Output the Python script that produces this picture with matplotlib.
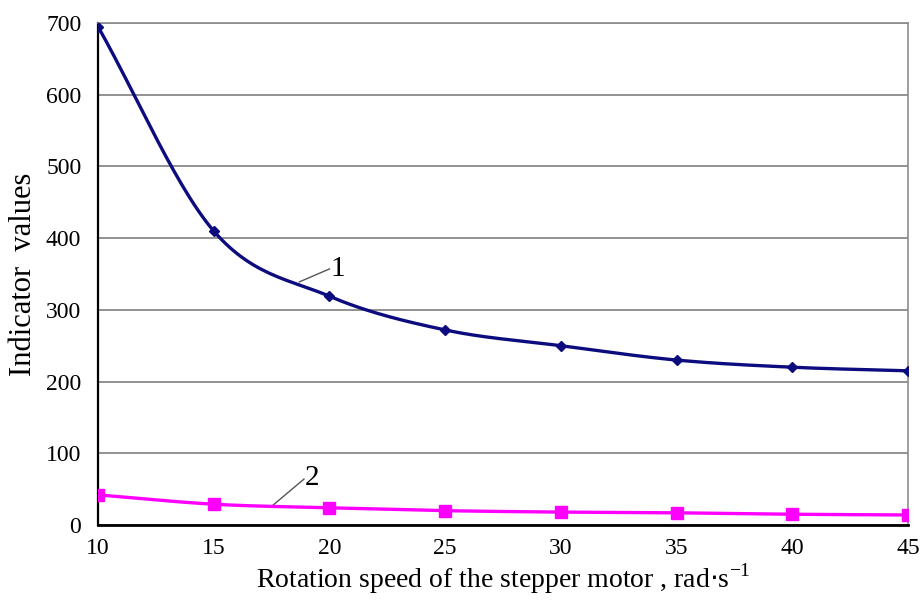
import numpy as np
import matplotlib.pyplot as plt

speed = [10, 15, 20, 25, 30, 35, 40, 45]
series1 = [695, 410, 319, 272, 250, 230, 220, 215]
series2 = [42, 29, 24, 20, 18, 17, 15, 14]


def smooth(x, y, n=30):
    # Catmull-Rom curve through the points, like a spreadsheet "smoothed line"
    x = np.asarray(x, float)
    y = np.asarray(y, float)
    px = np.r_[2 * x[0] - x[1], x, 2 * x[-1] - x[-2]]
    py = np.r_[2 * y[0] - y[1], y, 2 * y[-1] - y[-2]]
    t = np.linspace(0, 1, n)[:, None]
    xs, ys = [], []
    for i in range(1, len(px) - 2):
        for p, out in ((px, xs), (py, ys)):
            p0, p1, p2, p3 = p[i - 1], p[i], p[i + 1], p[i + 2]
            seg = 0.5 * ((2 * p1) + (-p0 + p2) * t
                         + (2 * p0 - 5 * p1 + 4 * p2 - p3) * t ** 2
                         + (-p0 + 3 * p1 - 3 * p2 + p3) * t ** 3)
            out.append(seg.ravel())
    return np.concatenate(xs), np.concatenate(ys)


plt.rcParams['font.family'] = ['Liberation Serif', 'DejaVu Serif']

fig = plt.figure(figsize=(9.22, 6), dpi=100)
ax = fig.add_axes([98 / 922, 1 - 525 / 600, 810 / 922, 502 / 600])

blue = '#0c0c7e'
pink = '#ff00ff'

sx, sy = smooth(speed, series1)
ax.plot(sx, sy, color=blue, lw=2.4, zorder=3)
ax.plot(speed, series1, ls='none', marker='D', ms=5.5, color=blue, zorder=4)

sx, sy = smooth(speed, series2)
ax.plot(sx, sy, color=pink, lw=2.4, zorder=3)
ax.plot(speed, series2, ls='none', marker='s', ms=8, color=pink, zorder=4)

ax.set_xlim(10, 45)
ax.set_ylim(0, 700)
ax.set_xticks(speed)
ax.set_yticks(range(0, 701, 100))
ax.yaxis.grid(True, color='#7f7f7f', lw=1.2)
ax.set_axisbelow(True)
ax.tick_params(length=0, labelsize=17)
ax.tick_params(axis='y', pad=12)
ax.tick_params(axis='x', pad=9)

ax.spines['left'].set_color('black')
ax.spines['left'].set_linewidth(1.6)
ax.spines['bottom'].set_color('black')
ax.spines['bottom'].set_linewidth(2.0)
for s in ('top', 'right'):
    ax.spines[s].set_color('#8c8c8c')
    ax.spines[s].set_linewidth(1.2)

ax.set_ylabel('Indicator  values', fontsize=22, labelpad=6)
ax.set_xlabel(r'Rotation speed of the stepper motor , rad$\cdot$s$^{\mathregular{-1}}$',
              fontsize=20, labelpad=2)

# curve labels with leader lines
ax.plot([18.7, 20.0], [339, 357], color='#555555', lw=1)
ax.text(20.05, 357, '1', fontsize=21, va='center', ha='left')
ax.plot([17.5, 18.9], [26, 64], color='#555555', lw=1)
ax.text(18.95, 66, '2', fontsize=21, va='center', ha='left')

fig.savefig('out.png', dpi=100)
